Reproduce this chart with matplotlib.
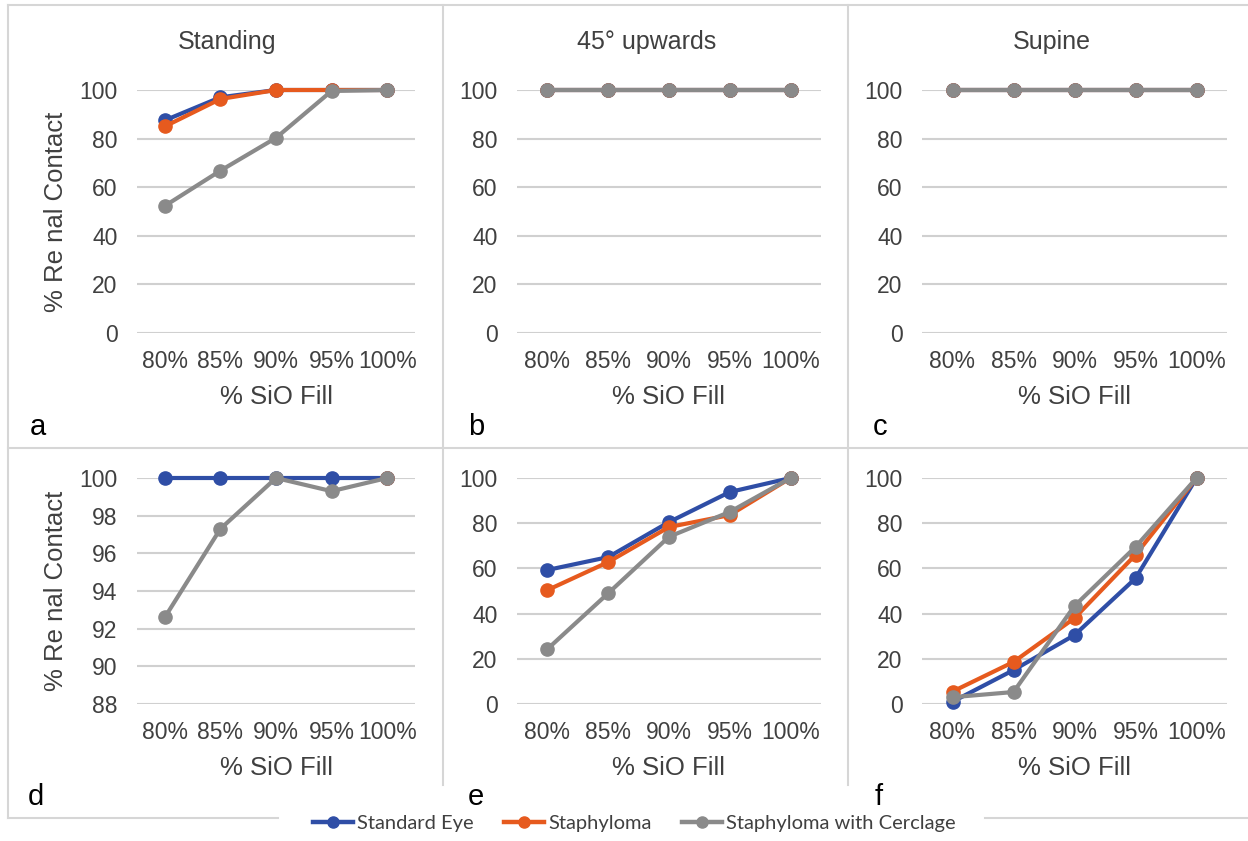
import matplotlib.pyplot as plt
import numpy as np
from matplotlib.lines import Line2D

plt.rcParams['font.family'] = ['Liberation Sans', 'DejaVu Sans']

W, H = 1248, 841

fill_levels = ['80%', '85%', '90%', '95%', '100%']
series_names = ['Standard Eye', 'Staphyloma', 'Staphyloma with Cerclage']
series_colors = ['#2F4EA6', '#E65A1E', '#8A8A8A']

# a - Standing
a_standard = [87.5, 97, 100, 100, 100]
a_staphyloma = [85, 96.3, 100, 100, 100]
a_cerclage = [52.3, 66.8, 80.3, 99.6, 100]

# b - 45 upwards
b_standard = [100, 100, 100, 100, 100]
b_staphyloma = [100, 100, 100, 100, 100]
b_cerclage = [100, 100, 100, 100, 100]

# c - Supine
c_standard = [100, 100, 100, 100, 100]
c_staphyloma = [100, 100, 100, 100, 100]
c_cerclage = [100, 100, 100, 100, 100]

# d
d_standard = [100, 100, 100, 100, 100]
d_staphyloma = [np.nan, np.nan, np.nan, np.nan, 100]
d_cerclage = [92.6, 97.3, 100, 99.3, 100]

# e
e_standard = [59.3, 65, 80.5, 93.8, 100]
e_staphyloma = [50.4, 62.8, 78.3, 83.6, 100]
e_cerclage = [24.3, 49, 74, 85, 100]

# f
f_standard = [1, 15, 30.5, 55.6, 100]
f_staphyloma = [5.5, 18.6, 38, 66, 100]
f_cerclage = [3, 5.3, 43.4, 69.5, 100]

text_color = '#404040'
grid_color = '#D0D0D0'
frame_color = '#D6D6D6'


def px_axes(fig, x0, y0, x1, y1):
	return fig.add_axes([x0 / W, 1 - y1 / H, (x1 - x0) / W, (y1 - y0) / H])


def plot_panel(ax, values, ymin, ymax, step, ylabel=False):
	x = np.arange(len(fill_levels))
	for vals, color, name in zip(values, series_colors, series_names):
		ax.plot(x, vals, color=color, lw=3, marker='o', ms=9.5, label=name, clip_on=False, zorder=3)

	ax.set_xlim(-0.5, len(fill_levels) - 0.5)
	ax.set_ylim(ymin, ymax)
	ax.set_yticks(np.arange(ymin, ymax + step / 2, step))
	ax.set_xticks(x)
	ax.set_xticklabels(fill_levels)
	ax.grid(axis='y', color=grid_color, lw=1.5)
	ax.set_axisbelow(True)
	for s in ax.spines.values():
		s.set_visible(False)
	ax.tick_params(axis='both', length=0, labelsize=16.5, labelcolor=text_color)
	ax.tick_params(axis='x', pad=12)
	ax.tick_params(axis='y', pad=14)
	ax.set_xlabel('% SiO Fill', fontsize=18.5, color=text_color, labelpad=9)
	if ylabel:
		ax.set_ylabel('% Re nal Contact', fontsize=18.5, color=text_color, labelpad=8)


def fig_line(fig, x0, y0, x1, y1):
	fig.add_artist(Line2D([x0 / W, x1 / W], [1 - y0 / H, 1 - y1 / H], transform=fig.transFigure,
						  color=frame_color, lw=1.5))


def fig_text(fig, x, y, s, **kw):
	fig.text(x / W, 1 - y / H, s, **kw)


def main():
	fig = plt.figure(figsize=(W / 100, H / 100), dpi=100)

	# frame lines
	fig_line(fig, 8, 5, 1248, 5)
	fig_line(fig, 8, 448, 1248, 448)
	fig_line(fig, 8, 5, 8, 818)
	fig_line(fig, 443, 5, 443, 785)
	fig_line(fig, 848, 5, 848, 785)
	fig_line(fig, 8, 818, 278, 818)
	fig_line(fig, 985, 818, 1248, 818)

	ax_a = px_axes(fig, 137, 90, 415, 333)
	plot_panel(ax_a, [a_standard, a_staphyloma, a_cerclage], 0, 100, 20, ylabel=True)
	ax_b = px_axes(fig, 517, 90, 821, 333)
	plot_panel(ax_b, [b_standard, b_staphyloma, b_cerclage], 0, 100, 20)
	ax_c = px_axes(fig, 922, 90, 1227, 333)
	plot_panel(ax_c, [c_standard, c_staphyloma, c_cerclage], 0, 100, 20)

	ax_d = px_axes(fig, 137, 478, 415, 704)
	plot_panel(ax_d, [d_standard, d_staphyloma, d_cerclage], 88, 100, 2, ylabel=True)
	ax_e = px_axes(fig, 517, 478, 821, 704)
	plot_panel(ax_e, [e_standard, e_staphyloma, e_cerclage], 0, 100, 20)
	ax_f = px_axes(fig, 922, 478, 1227, 704)
	plot_panel(ax_f, [f_standard, f_staphyloma, f_cerclage], 0, 100, 20)

	# titles
	fig_text(fig, 227, 42, 'Standing', fontsize=18, color=text_color, ha='center', va='center')
	fig_text(fig, 647, 42, '45° upwards', fontsize=18, color=text_color, ha='center', va='center')
	fig_text(fig, 1052, 42, 'Supine', fontsize=18, color=text_color, ha='center', va='center')

	# panel letters
	for x, y, s in [(30, 435, 'a'), (468, 435, 'b'), (873, 435, 'c'),
					(28, 805, 'd'), (468, 805, 'e'), (875, 805, 'f')]:
		fig_text(fig, x, y, s, fontsize=21, color='black', ha='left', va='baseline')

	handles = [Line2D([], [], color=c, lw=3.2, marker='o', ms=8) for c in series_colors]
	leg = fig.legend(handles, series_names, loc='center', bbox_to_anchor=(634 / W, 1 - 823 / H),
					 ncol=3, frameon=False, handlelength=2.0, handletextpad=0.2, columnspacing=1.5,
					 prop={'family': 'Lato', 'size': 14.5})
	for t in leg.get_texts():
		t.set_color(text_color)

	fig.savefig('out.png', dpi=100, facecolor='white')


main()
